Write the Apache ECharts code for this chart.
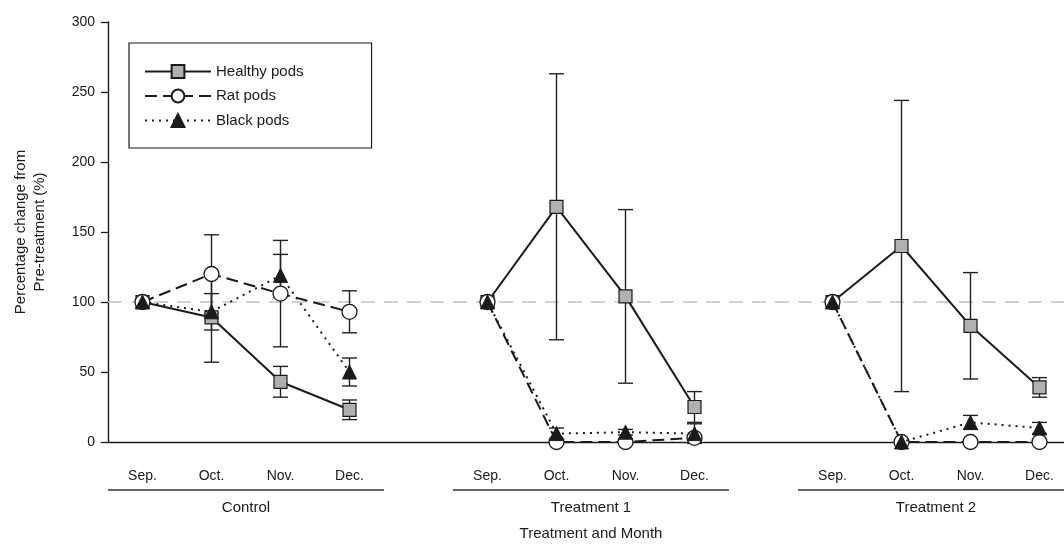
<!DOCTYPE html>
<html>
<head>
<meta charset="utf-8">
<script src="https://cdn.jsdelivr.net/npm/echarts@6/dist/echarts.min.js"></script>
<style>
html,body{margin:0;padding:0;background:#fff;}
#chart{width:1064px;height:544px;}
</style>
</head>
<body>
<div id="chart"></div>
<script>
// ---- data ----
const categories = ['Sep.','Oct.','Nov.','Dec.','','Sep.','Oct.','Nov.','Dec.','','Sep.','Oct.','Nov.','Dec.'];
const groupNames = ['Control','Treatment 1','Treatment 2'];
const groupSpans = [[0,3],[5,8],[10,13]];
const yTicks = [0,50,100,150,200,250,300];
const refValue = 100;

const healthy    = [100, 89, 43, 23, '-', 100, 168, 104, 25, '-', 100, 140, 83, 39];
const healthyErr = [0, 32, 11, 7, '-', 0, 95, 62, 11, '-', 0, 104, 38, 7];
const rat        = [100, 120, 106, 93, '-', 100, 0, 0, 3, '-', 100, 0, 0, 0];
const ratErr     = [0, 28, 38, 15, '-', 0, 0, 0, 2, '-', 0, 0, 0, 0];
const black      = [100, 93, 119, 50, '-', 100, 6, 7, 6, '-', 100, 0, 14, 10];
const blackErr   = [0, 13, 15, 10, '-', 0, 4, 2, 7, '-', 0, 0, 5, 4];

// ---- build ----
function errData(vals, errs){
  const out = [];
  vals.forEach((v,i)=>{
    if (v === '-' || !errs[i]) return;
    out.push([i, v - errs[i], v + errs[i]]);
  });
  return out;
}
const errAll = [].concat(errData(healthy,healthyErr), errData(rat,ratErr), errData(black,blackErr));

const FONT = '"Liberation Sans", Arial, Helvetica, sans-serif';
const INK = '#1a1a1a';

const chart = echarts.init(document.getElementById('chart'));

function renderErr(params, api){
  const x = api.value(0);
  const lo = api.coord([x, api.value(1)]);
  const hi = api.coord([x, api.value(2)]);
  const hw = 7.5;
  const st = {stroke: '#222', lineWidth: 1.4};
  return {type:'group', children:[
    {type:'line', shape:{x1:lo[0],y1:lo[1],x2:hi[0],y2:hi[1]}, style:st},
    {type:'line', shape:{x1:lo[0]-hw,y1:lo[1],x2:lo[0]+hw,y2:lo[1]}, style:st},
    {type:'line', shape:{x1:hi[0]-hw,y1:hi[1],x2:hi[0]+hw,y2:hi[1]}, style:st}
  ]};
}

function renderGroup(params, api){
  const s = api.coord([api.value(0), 0]);
  const e = api.coord([api.value(1), 0]);
  const band = api.size([1, 0])[0];
  const y0 = s[1];
  const x1 = s[0] - band/2, x2 = e[0] + band/2;
  return {type:'group', children:[
    {type:'line', shape:{x1:x1, y1:y0+48, x2:x2, y2:y0+48}, style:{stroke:'#333', lineWidth:1.3}},
    {type:'text', style:{text: groupNames[params.dataIndex], x:(x1+x2)/2, y:y0+66, align:'center', verticalAlign:'middle', font:'15px ' + FONT, fill:'#1a1a1a'}}
  ]};
}

const option = {
  animation: false,
  backgroundColor: '#fff',
  textStyle: {fontFamily: FONT},
  grid: {left: 108, top: 22, bottom: 102, width: 966, outerBoundsMode: 'none', containLabel: false},
  legend: {
    data: ['Healthy pods','Rat pods','Black pods'],
    orient: 'vertical',
    left: 129, top: 43,
    padding: [21, 68, 20, 15],
    itemWidth: 66, itemHeight: 16, itemGap: 9.5,
    borderColor: '#1a1a1a', borderWidth: 1.2,
    textStyle: {fontSize: 15, color: '#1a1a1a', fontFamily: FONT},
    selectedMode: false
  },
  xAxis: {
    type: 'category',
    data: categories,
    boundaryGap: true,
    name: 'Treatment and Month',
    nameLocation: 'middle',
    nameGap: 84,
    nameTextStyle: {fontSize: 15, color: '#1a1a1a', fontFamily: FONT},
    axisLine: {lineStyle: {color: INK, width: 1.4}},
    axisTick: {alignWithLabel: true, length: 7, lineStyle: {color: INK, width: 1.3}},
    axisLabel: {margin: 27, fontSize: 14, color: '#1a1a1a', fontFamily: FONT, interval: 0},
    splitLine: {show: false}
  },
  yAxis: {
    type: 'value',
    min: 0, max: 300, interval: 50,
    name: 'Percentage change from\nPre-treatment (%)',
    nameLocation: 'middle',
    nameGap: 59,
    nameRotate: 90,
    nameTextStyle: {fontSize: 15, lineHeight: 19, color: '#1a1a1a', fontFamily: FONT, align: 'center'},
    axisLine: {show: true, lineStyle: {color: INK, width: 1.4}},
    axisTick: {show: true, length: 7, lineStyle: {color: INK, width: 1.3}},
    axisLabel: {margin: 13, fontSize: 14, color: '#1a1a1a', fontFamily: FONT,
      formatter: v => yTicks.indexOf(v) >= 0 ? String(v) : ''},
    splitLine: {show: false}
  },
  series: [
    {
      name: 'errors', type: 'custom', renderItem: renderErr, data: errAll,
      encode: {x: 0, y: [1, 2]}, z: 2, silent: true, clip: false,
      markLine: {
        silent: true, symbol: 'none', z: 1,
        label: {show: false},
        lineStyle: {color: '#c4c4c4', type: [14, 9], width: 1.5},
        data: [{yAxis: refValue}]
      }
    },
    {
      name: 'groups', type: 'custom', renderItem: renderGroup,
      data: groupSpans, encode: {x: [0, 1]}, clip: false, silent: true, z: 2
    },
    {
      name: 'Healthy pods', type: 'line', data: healthy, connectNulls: false,
      symbol: 'rect', symbolSize: 13, z: 3,
      lineStyle: {color: INK, width: 2, type: 'solid'},
      itemStyle: {color: '#b0b0b0', borderColor: INK, borderWidth: 1.2}
    },
    {
      name: 'Rat pods', type: 'line', data: rat, connectNulls: false,
      symbol: 'circle', symbolSize: 15, z: 4,
      lineStyle: {color: INK, width: 2, type: [12, 6]},
      itemStyle: {color: '#ffffff', borderColor: INK, borderWidth: 1.3}
    },
    {
      name: 'Black pods', type: 'line', data: black, connectNulls: false,
      symbol: 'triangle', symbolSize: 14, z: 5,
      lineStyle: {color: INK, width: 2, type: [2, 5]},
      itemStyle: {color: INK, borderColor: INK, borderWidth: 1}
    }
  ]
};
chart.setOption(option);
</script>
</body>
</html>
